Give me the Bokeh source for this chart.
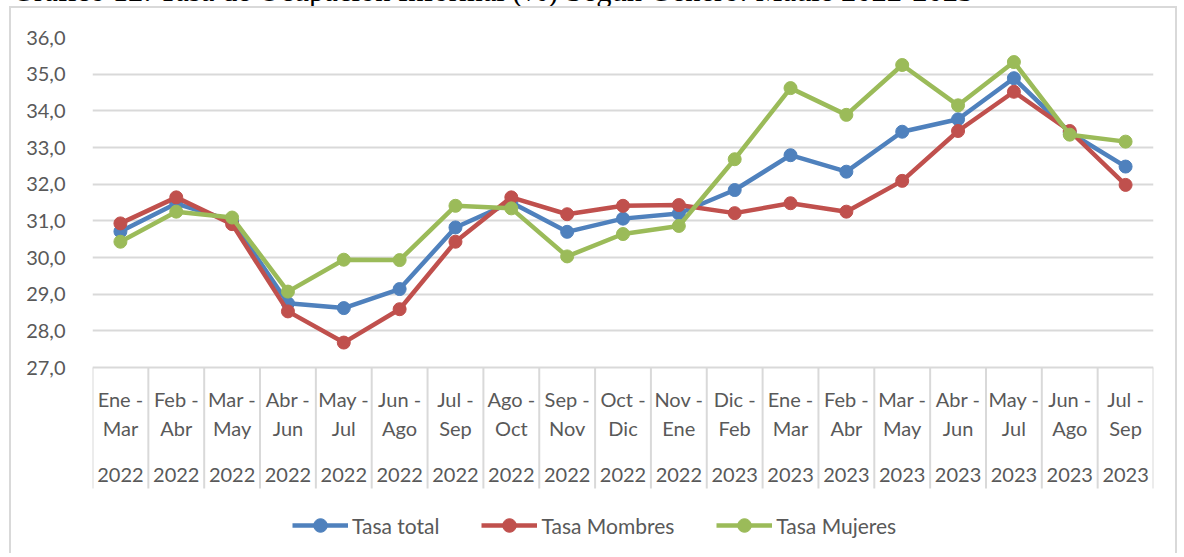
from bokeh.plotting import figure
from bokeh.models import Range1d, FixedTicker, Legend, LegendItem, Div
from bokeh.layouts import column
from bokeh.embed import file_html
from bokeh.resources import INLINE
from bokeh.core.properties import value

# ---------------- data ----------------
title_text = "Gráfico 12: Tasa de Ocupación Informal (%) Según Género: Maule 2022-2023"

periods = ["Ene - Mar", "Feb - Abr", "Mar - May", "Abr - Jun", "May - Jul", "Jun - Ago",
           "Jul - Sep", "Ago - Oct", "Sep - Nov", "Oct - Dic", "Nov - Ene", "Dic - Feb",
           "Ene - Mar", "Feb - Abr", "Mar - May", "Abr - Jun", "May - Jul", "Jun - Ago",
           "Jul - Sep"]
years = ["2022", "2022", "2022", "2022", "2022", "2022", "2022", "2022", "2022", "2022",
         "2022", "2023", "2023", "2023", "2023", "2023", "2023", "2023", "2023"]

tasa_total = [30.71, 31.47, 31.00, 28.75, 28.62, 29.14, 30.82, 31.50, 30.70, 31.06,
              31.20, 31.84, 32.79, 32.34, 33.43, 33.77, 34.89, 33.41, 32.48]
tasa_hombres = [30.93, 31.64, 30.91, 28.53, 27.68, 28.59, 30.43, 31.64, 31.18, 31.41,
                31.43, 31.21, 31.48, 31.25, 32.09, 33.45, 34.52, 33.45, 31.98]
tasa_mujeres = [30.43, 31.25, 31.09, 29.07, 29.94, 29.93, 31.41, 31.34, 30.03, 30.64,
                30.86, 32.68, 34.62, 33.89, 35.25, 34.15, 35.33, 33.35, 33.16]

series_names = ["Tasa total", "Tasa Mombres", "Tasa Mujeres"]
series_colors = ["#4F81BD", "#C0504D", "#9BBB59"]

y_ticks = [27, 28, 29, 30, 31, 32, 33, 34, 35, 36]

# ---------------- layout ----------------
CANVAS_X0, CANVAS_Y0 = 11, 8          # page position of the canvas
W, H = 1168, 547
BORDER_L, BORDER_T, BORDER_R = 81, 29, 26
FRAME_H = H - BORDER_T
PX = 330.0 / 9.0                      # pixels per unit on y
Y_TOP = 36.0
Y_BOT = Y_TOP - FRAME_H / PX
PAGE_TOP = CANVAS_Y0 + BORDER_T


def py(page_y):
    return Y_TOP - (page_y - PAGE_TOP) / PX


FONT = "Lato"
TXT = "#595959"
GRID = "#D9D9D9"

n = len(periods)
xs = list(range(n))

title = Div(text=title_text, width=1184, height=30, margin=(-24, 0, 0, 0),
            styles={"font-family": "'Liberation Serif', serif", "font-size": "30.5px",
                    "line-height": "30px", "white-space": "nowrap", "color": "#000000",
                    "text-indent": "12px", "overflow": "visible"})

p = figure(width=W, height=H, output_backend="svg", toolbar_location=None,
           x_range=Range1d(-0.5, n - 0.5), y_range=Range1d(Y_BOT, Y_TOP),
           min_border_left=BORDER_L, min_border_right=BORDER_R,
           min_border_top=BORDER_T, min_border_bottom=0,
           margin=(0, 0, 0, 9),
           styles={"border-left": "2px solid #D9D9D9",
                   "border-top": "2px solid #D9D9D9",
                   "border-right": "2px solid #D9D9D9"})
p.outline_line_color = None
p.background_fill_color = "white"
p.border_fill_color = "white"
p.xaxis.visible = False
p.xgrid.visible = False

ax = p.yaxis[0]
ax.ticker = FixedTicker(ticks=y_ticks)
ax.major_label_overrides = {t: f"{t:.1f}".replace(".", ",") for t in y_ticks}
ax.axis_line_color = None
ax.major_tick_line_color = None
ax.minor_tick_line_color = None
ax.major_label_standoff = 21
ax.major_label_text_font = FONT
ax.major_label_text_font_size = "20px"
ax.major_label_text_color = TXT

p.ygrid.grid_line_color = GRID
p.ygrid.grid_line_width = 2

# category separators
sep_x = [i - 0.5 for i in range(n + 1)]
p.segment(x0=sep_x, y0=[27.0] * (n + 1), x1=sep_x, y1=[py(488)] * (n + 1),
          line_color=GRID, line_width=2)

# category labels
top_lab = [s.split(" - ")[0] + " -" for s in periods]
bot_lab = [s.split(" - ")[1] for s in periods]
for labs, yy in ((top_lab, py(398)), (bot_lab, py(427)), (years, py(474))):
    p.text(x=xs, y=[yy] * n, text=labs, text_align="center", text_baseline="middle",
           text_font=value(FONT), text_font_size="20px", text_color=TXT)

items = []
for vals, name, col in zip([tasa_total, tasa_hombres, tasa_mujeres], series_names, series_colors):
    l = p.line(xs, vals, line_color=col, line_width=4.5)
    s = p.scatter(xs, vals, size=13, fill_color=col, line_color=col)
    items.append(LegendItem(label=name, renderers=[l, s]))

legend = Legend(items=items, orientation="horizontal", location=(200, 13),
                border_line_color=None, background_fill_alpha=0, padding=0, margin=0,
                spacing=42, label_standoff=4, glyph_width=56, glyph_height=34,
                label_text_font=FONT, label_text_font_size="21px",
                label_text_color=TXT, label_text_baseline="middle")
p.add_layout(legend)

layout = column(title, p, spacing=0)

open("out.html", "w").write(file_html(layout, INLINE))
